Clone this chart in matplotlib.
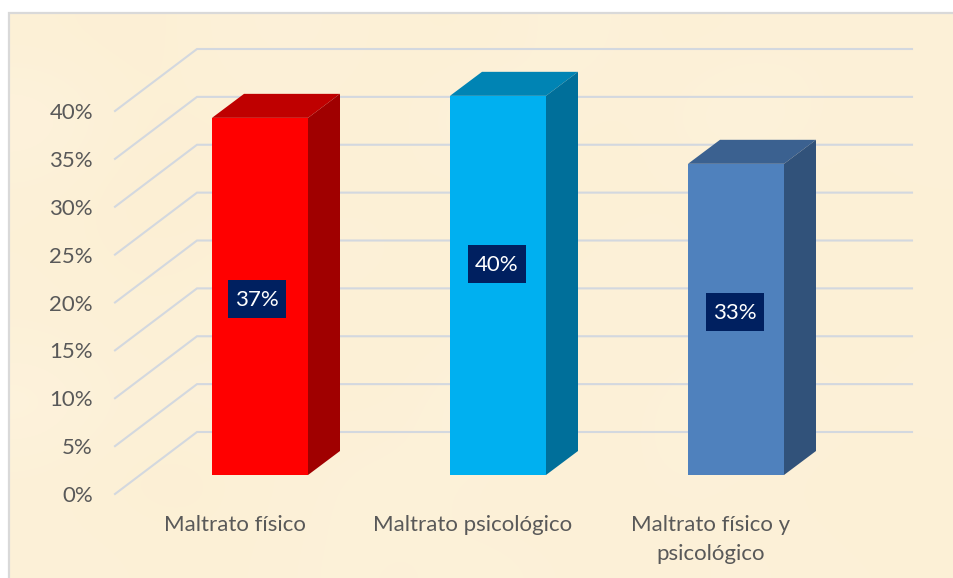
import matplotlib
matplotlib.use('Agg')
import matplotlib.pyplot as plt
from matplotlib.colors import LinearSegmentedColormap
from matplotlib.patches import Polygon, Rectangle

# datos
categorias = ['Maltrato físico', 'Maltrato psicológico', 'Maltrato físico y\npsicológico']
alturas = [37.3, 39.6, 32.5]   # alto dibujado de cada barra
rotulos = ['37%', '40%', '33%']
niveles = [0, 5, 10, 15, 20, 25, 30, 35, 40]
etiquetas_y = ['0%', '5%', '10%', '15%', '20%', '25%', '30%', '35%', '40%']

col_frente = ['#FF0000', '#00B0F0', '#4F81BD']
col_arriba = ['#BF0000', '#0084B4', '#3B6190']
col_lado = ['#A00000', '#006F9A', '#31527A']
alto_etiqueta = [18.4, 22.0, 17.0]  # altura (en %) del centro de cada rotulo
corrimiento = [-32, -30, -30]       # pixeles del rotulo respecto de la barra

# textura suave del papel (0 = mas oscuro, 1 = mas claro)
textura = [
    [.45, .35, .55, .60, .45, .40, .70, .45, .50, .55, .50],
    [.85, .40, .45, .50, .40, .85, .45, .50, .85, .50, .55],
    [.50, .30, .35, .45, .50, .40, .45, .50, .40, .45, .50],
    [.50, .40, .45, .60, .50, .45, .50, .55, .50, .55, .45],
    [.55, .45, .50, .45, .40, .50, .55, .45, .50, .40, .50],
    [.85, .50, .55, .50, .45, .85, .50, .55, .85, .50, .55],
    [.50, .35, .40, .55, .65, .50, .45, .60, .50, .45, .45],
    [.55, .50, .45, .60, .55, .60, .55, .50, .60, .50, .50],
]

W, H = 954, 578
px_x = 238.0   # pixeles por categoria
px_y = 9.575   # pixeles por 1%
x0, y0 = 260.0, 475.0  # pixel de la categoria 0, valor 0

plt.rcParams['font.family'] = ['Lato', 'DejaVu Sans']

fig = plt.figure(figsize=(W / 100, H / 100), dpi=100, facecolor='white')
ax = fig.add_axes([0, 0, 1, 1])

def X(p):
    return (p - x0) / px_x

def Y(p):
    return (y0 - p) / px_y

# fondo: el borde solo se ve arriba y a la izquierda, la imagen esta recortada
papel = LinearSegmentedColormap.from_list('papel', ['#FBEDCE', '#FEF4E0'])
ax.imshow(textura, cmap=papel, vmin=0, vmax=1, interpolation='bicubic', aspect='auto',
          extent=(X(9), X(W + 6), Y(H + 6), Y(13)), zorder=0)
ax.add_patch(Rectangle((X(9), Y(H + 6)), X(W + 6) - X(9), Y(13) - Y(H + 6), facecolor='none',
                       edgecolor='#D9D9D9', linewidth=1.6, zorder=0.5))
ax.set_xlim((0 - x0) / px_x, (W - x0) / px_x)
ax.set_ylim((y0 - H) / px_y, y0 / px_y)
ax.axis('off')

# cuadricula: pared del fondo y piso en perspectiva
color_grilla = '#D3D8DF'
for v in niveles:
    ax.plot([X(115), X(197), X(912)],
            [v + Y(494), v + Y(432), v + Y(432)],
            color=color_grilla, linewidth=1.5, zorder=1, solid_joinstyle='miter')

for v, t in zip(niveles, etiquetas_y):
    ax.text(X(93), v + Y(496), t, ha='right', va='center', fontsize=16, color='#595959')

# barras 3D
ancho = 96 / px_x
dx = 32 / px_x
dy = 24 / px_y
for i, v in enumerate(alturas):
    xl = i - ancho / 2
    xr = i + ancho / 2
    ax.add_patch(Rectangle((xl, 0), ancho, v, facecolor=col_frente[i], edgecolor='none', zorder=3))
    ax.add_patch(Polygon([(xl, v), (xr, v), (xr + dx, v + dy), (xl + dx, v + dy)],
                         facecolor=col_arriba[i], edgecolor='none', zorder=3))
    ax.add_patch(Polygon([(xr, 0), (xr + dx, dy), (xr + dx, v + dy), (xr, v)],
                         facecolor=col_lado[i], edgecolor='none', zorder=3))
    ax.add_patch(Rectangle((i + corrimiento[i] / px_x, alto_etiqueta[i] - 19 / px_y), 58 / px_x, 38 / px_y,
                           facecolor='#002060', edgecolor='none', zorder=4))
    ax.text(i + (corrimiento[i] + 29) / px_x, alto_etiqueta[i] - 0.1, rotulos[i], ha='center', va='center',
            fontsize=16, color='white', zorder=5)

# categorias
for i, c in enumerate(categorias):
    ax.text(i - 25 / px_x, Y(515), c, ha='center', va='top', fontsize=16, color='#595959',
            linespacing=1.55)

fig.savefig('out.png', dpi=100)
